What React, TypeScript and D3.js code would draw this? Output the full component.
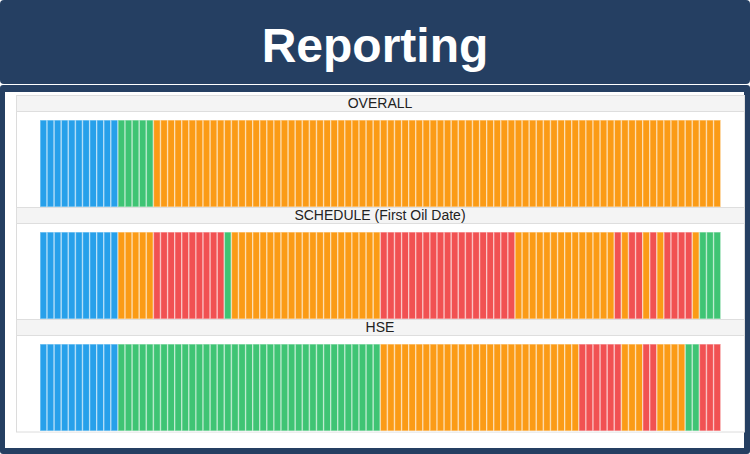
import React, { useEffect, useRef } from "react";
import * as d3 from "d3";

// each panel is a run of coloured bars: [status, number of bars]
const panelTitles = ["OVERALL", "SCHEDULE (First Oil Date)", "HSE"];

const overallRuns: [string, number][] = [
  ["blue", 11], ["green", 5], ["orange", 80],
];

const scheduleRuns: [string, number][] = [
  ["blue", 11], ["orange", 5], ["red", 10], ["green", 1], ["orange", 21],
  ["red", 19], ["orange", 14], ["red", 1], ["orange", 1], ["red", 2],
  ["orange", 1], ["red", 1], ["orange", 1], ["red", 4], ["orange", 1], ["green", 3],
];

const hseRuns: [string, number][] = [
  ["blue", 11], ["green", 37], ["orange", 28], ["red", 6], ["orange", 3],
  ["red", 2], ["orange", 4], ["green", 2], ["red", 3],
];

const statusColours: Record<string, string> = {
  blue: "#27a0ea",
  green: "#3fc474",
  orange: "#fb9b16",
  red: "#f15152",
};

const W = 750;
const H = 454;

function expand(runs: [string, number][]) {
  const out: string[] = [];
  runs.forEach(([s, n]) => { for (let k = 0; k < n; k++) out.push(s); });
  return out;
}

export default function App() {
  const ref = useRef<SVGSVGElement>(null);

  useEffect(() => {
    const svg = d3.select(ref.current);
    svg.selectAll("*").remove();

    // frame
    svg.append("rect").attr("x", 0).attr("y", 0).attr("width", W).attr("height", 84)
      .attr("rx", 4).attr("fill", "#253f62");
    svg.append("rect").attr("x", 0).attr("y", 85).attr("width", W).attr("height", H - 85)
      .attr("rx", 3).attr("fill", "#253f62");
    svg.append("rect").attr("x", 5).attr("y", 92).attr("width", 739).attr("height", 356)
      .attr("fill", "#ffffff");

    svg.append("text").attr("x", W / 2).attr("y", 62).attr("text-anchor", "middle")
      .attr("font-family", "Liberation Sans, Arial, sans-serif").attr("font-weight", "bold")
      .attr("font-size", 48).attr("fill", "#ffffff").text("Reporting");

    const panels = [overallRuns, scheduleRuns, hseRuns].map(expand);
    const n = panels[0].length;

    const x = d3.scaleBand<number>().domain(d3.range(n)).range([40, 720.7]).padding(0);
    const y = d3.scaleBand<number>().domain(d3.range(panels.length)).range([95, 431]).padding(0);

    // chart outline
    svg.append("rect").attr("x", 16.5).attr("y", 95.5).attr("width", 728).attr("height", 336.5)
      .attr("fill", "none").attr("stroke", "#dcdcdc");

    const g = svg.selectAll("g.panel").data(panels).enter().append("g")
      .attr("class", "panel")
      .attr("transform", (_d, i) => `translate(0,${y(i)})`);

    g.append("rect").attr("x", 16.5).attr("y", 0.5).attr("width", 728).attr("height", 16)
      .attr("fill", "#f4f4f4").attr("stroke", "#dedede");

    g.append("text").attr("x", 380).attr("y", 12.5).attr("text-anchor", "middle")
      .attr("font-family", "Liberation Sans, Arial, sans-serif").attr("font-size", 14)
      .attr("fill", "#222").text((_d, i) => panelTitles[i]);

    g.selectAll("rect.bar").data((d) => d).enter().append("rect")
      .attr("class", "bar")
      .attr("x", (_d, i) => x(i)!)
      .attr("y", 25)
      .attr("width", x.bandwidth())
      .attr("height", 87)
      .attr("fill", (d) => statusColours[d])
      .attr("stroke", "#ffffff")
      .attr("stroke-opacity", 0.45)
      .attr("stroke-width", 1.4);
  }, []);

  return (
    <svg ref={ref} width={W} height={H} style={{ position: "absolute", left: 0, top: 0 }} />
  );
}
